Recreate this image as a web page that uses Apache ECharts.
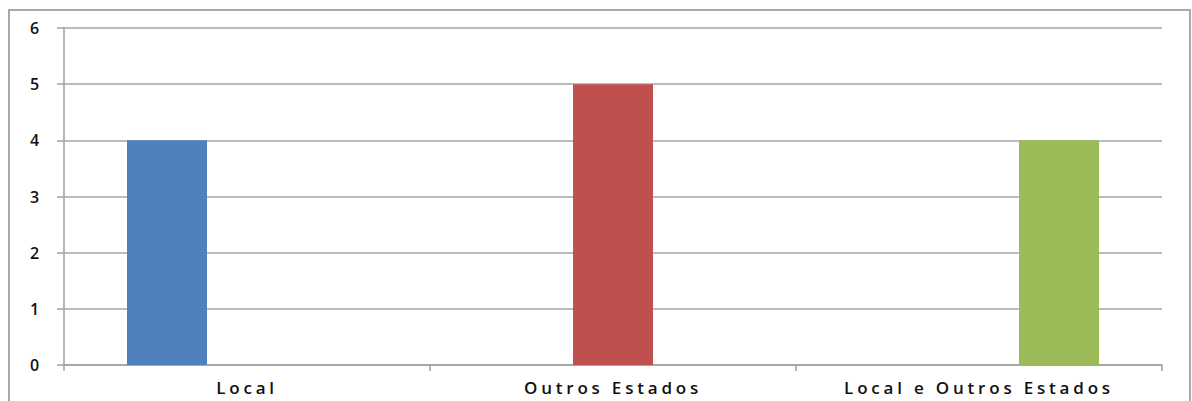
<!DOCTYPE html>
<html>
<head>
<meta charset="utf-8">
<script src="https://cdn.jsdelivr.net/npm/echarts@6/dist/echarts.min.js"></script>
<style>
html,body{margin:0;padding:0;background:#fff;}
#chart{width:1192px;height:401px;}
#chart svg text{letter-spacing:3.8px;}
</style>
</head>
<body>
<div id="chart"></div>
<script>
const categories = ["Local", "Outros Estados", "Local e Outros Estados"];
const seriesNames = ["Local", "Outros Estados", "Local e Outros Estados"];
const localValues = [4, null, null];
const outrosValues = [null, 5, null];
const ambosValues = [null, null, 4];
const yTicks = [0, 1, 2, 3, 4, 5, 6];
const colors = ["#4F81BD", "#C0504D", "#9BBB59"];

const chart = echarts.init(document.getElementById('chart'), null, {renderer: 'svg'});
const valueSets = [localValues, outrosValues, ambosValues];
chart.setOption({
  animation: false,
  backgroundColor: '#fff',
  grid: {left: 64, right: 30, top: 28, bottom: 36, containLabel: false},
  xAxis: {
    type: 'category',
    data: categories,
    boundaryGap: true,
    axisLine: {show: true, lineStyle: {color: '#A0A0A0', width: 1.5}},
    axisTick: {show: true, length: 6, lineStyle: {color: '#A0A0A0', width: 1.5}},
    axisLabel: {interval: 0, margin: 14, color: '#111', fontSize: 17, fontWeight: 600, fontFamily: 'Open Sans'},
    splitLine: {show: false}
  },
  yAxis: {
    type: 'value',
    min: yTicks[0],
    max: yTicks[yTicks.length - 1],
    interval: 1,
    axisLine: {show: true, lineStyle: {color: '#A0A0A0', width: 1.5}},
    axisTick: {show: true, length: 7, lineStyle: {color: '#A0A0A0', width: 1.5}},
    axisLabel: {margin: 21, color: '#111', fontSize: 16, fontWeight: 600, fontFamily: 'Open Sans'},
    splitLine: {show: true, lineStyle: {color: '#A6A6A6', width: 1.5}}
  },
  graphic: [{
    type: 'polyline',
    shape: {points: [[9, 420], [9, 10], [1190, 10], [1190, 420]]},
    style: {stroke: '#A8A8A8', lineWidth: 2, fill: null},
    silent: true
  }],
  series: valueSets.map((vals, i) => ({
    name: seriesNames[i],
    type: 'bar',
    data: vals,
    barWidth: 80,
    barGap: '0%',
    itemStyle: {color: colors[i]}
  }))
});
</script>
</body>
</html>
